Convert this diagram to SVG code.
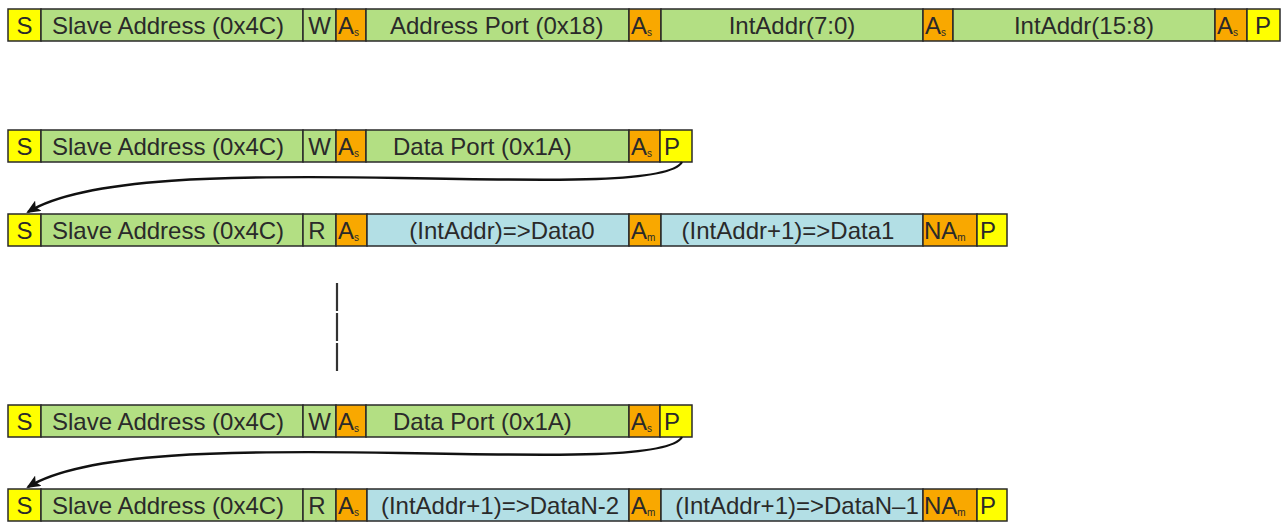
<svg xmlns="http://www.w3.org/2000/svg" width="1285" height="523" viewBox="0 0 1285 523">
<defs>
<style>
rect{stroke:#2a2a2a;stroke-width:1.5}
.y{fill:#ffff00}.g{fill:#b3df83}.o{fill:#f9a800}.b{fill:#b3dfe5}
text{font-family:"Liberation Sans",Arial,sans-serif;font-size:24px;fill:#2a2a2a}
.m{text-anchor:middle}
.sub{font-size:10px}
.conn{fill:none;stroke:#111;stroke-width:2.4}
</style>
<marker id="ah" viewBox="0 0 14 12" refX="12" refY="6" markerWidth="14" markerHeight="12" markerUnits="userSpaceOnUse" orient="auto">
<path d="M0,0 L14,6 L0,12 L3,6 z" fill="#111"/>
</marker>
</defs>
<rect x="0" y="0" width="1285" height="523" fill="#fff" style="stroke:none"/>

<!-- Row 1 -->
<g id="r1">
<g id="r1-s"><rect class="y" x="8" y="9" width="33" height="32"/><text class="m" x="24.5" y="34">S</text></g>
<g id="r1-addr"><rect class="g" x="41" y="9" width="262" height="32"/><text x="52" y="34">Slave Address (0x4C)</text></g>
<g id="r1-w"><rect class="g" x="303" y="9" width="33" height="32"/><text class="m" x="319.5" y="34">W</text></g>
<g id="r1-as1"><rect class="o" x="336" y="9" width="30" height="32"/><text x="338" y="34">A<tspan class="sub" dy="2">s</tspan></text></g>
<g id="r1-port"><rect class="g" x="366" y="9" width="263" height="32"/><text x="390" y="34">Address Port (0x18)</text></g>
<g id="r1-as2"><rect class="o" x="629" y="9" width="32" height="32"/><text x="631" y="34">A<tspan class="sub" dy="2">s</tspan></text></g>
<g id="r1-lo"><rect class="g" x="661" y="9" width="262" height="32"/><text class="m" x="792" y="34">IntAddr(7:0)</text></g>
<g id="r1-as3"><rect class="o" x="923" y="9" width="30" height="32"/><text x="925" y="34">A<tspan class="sub" dy="2">s</tspan></text></g>
<g id="r1-hi"><rect class="g" x="953" y="9" width="262" height="32"/><text class="m" x="1084" y="34">IntAddr(15:8)</text></g>
<g id="r1-as4"><rect class="o" x="1215" y="9" width="32" height="32"/><text x="1217" y="34">A<tspan class="sub" dy="2">s</tspan></text></g>
<g id="r1-p"><rect class="y" x="1247" y="9" width="33" height="32"/><text class="m" x="1263" y="34">P</text></g>
</g>

<!-- Row 2 -->
<g id="r2">
<g id="r2-s"><rect class="y" x="8" y="130" width="33" height="32"/><text class="m" x="24.5" y="155">S</text></g>
<g id="r2-addr"><rect class="g" x="41" y="130" width="262" height="32"/><text x="52" y="155">Slave Address (0x4C)</text></g>
<g id="r2-w"><rect class="g" x="303" y="130" width="33" height="32"/><text class="m" x="319.5" y="155">W</text></g>
<g id="r2-as1"><rect class="o" x="336" y="130" width="30" height="32"/><text x="338" y="155">A<tspan class="sub" dy="2">s</tspan></text></g>
<g id="r2-port"><rect class="g" x="366" y="130" width="263" height="32"/><text x="393" y="155">Data Port (0x1A)</text></g>
<g id="r2-as2"><rect class="o" x="629" y="130" width="31" height="32"/><text x="631" y="155">A<tspan class="sub" dy="2">s</tspan></text></g>
<g id="r2-p"><rect class="y" x="660" y="130" width="32" height="32"/><text x="664" y="155">P</text></g>
</g>

<!-- Row 3 -->
<g id="r3">
<g id="r3-s"><rect class="y" x="8" y="214" width="33" height="32"/><text class="m" x="24.5" y="239">S</text></g>
<g id="r3-addr"><rect class="g" x="41" y="214" width="262" height="32"/><text x="52" y="239">Slave Address (0x4C)</text></g>
<g id="r3-r"><rect class="g" x="303" y="214" width="33" height="32"/><text class="m" x="317" y="239">R</text></g>
<g id="r3-as"><rect class="o" x="336" y="214" width="31" height="32"/><text x="338" y="239">A<tspan class="sub" dy="2">s</tspan></text></g>
<g id="r3-d0"><rect class="b" x="367" y="214" width="262" height="32"/><text class="m" x="502" y="239">(IntAddr)=&gt;Data0</text></g>
<g id="r3-am"><rect class="o" x="629" y="214" width="32" height="32"/><text x="631" y="239">A<tspan class="sub" dy="2">m</tspan></text></g>
<g id="r3-d1"><rect class="b" x="661" y="214" width="262" height="32"/><text class="m" x="788" y="239">(IntAddr+1)=&gt;Data1</text></g>
<g id="r3-nam"><rect class="o" x="923" y="214" width="54" height="32"/><text x="924" y="239">NA<tspan class="sub" dy="2">m</tspan></text></g>
<g id="r3-p"><rect class="y" x="977" y="214" width="30" height="32"/><text x="980" y="239">P</text></g>
</g>

<!-- Row 4 -->
<g id="r4">
<g id="r4-s"><rect class="y" x="8" y="405" width="33" height="32"/><text class="m" x="24.5" y="430">S</text></g>
<g id="r4-addr"><rect class="g" x="41" y="405" width="262" height="32"/><text x="52" y="430">Slave Address (0x4C)</text></g>
<g id="r4-w"><rect class="g" x="303" y="405" width="33" height="32"/><text class="m" x="319.5" y="430">W</text></g>
<g id="r4-as1"><rect class="o" x="336" y="405" width="30" height="32"/><text x="338" y="430">A<tspan class="sub" dy="2">s</tspan></text></g>
<g id="r4-port"><rect class="g" x="366" y="405" width="263" height="32"/><text x="393" y="430">Data Port (0x1A)</text></g>
<g id="r4-as2"><rect class="o" x="629" y="405" width="31" height="32"/><text x="631" y="430">A<tspan class="sub" dy="2">s</tspan></text></g>
<g id="r4-p"><rect class="y" x="660" y="405" width="32" height="32"/><text x="664" y="430">P</text></g>
</g>

<!-- Row 5 -->
<g id="r5">
<g id="r5-s"><rect class="y" x="8" y="489" width="33" height="32"/><text class="m" x="24.5" y="514">S</text></g>
<g id="r5-addr"><rect class="g" x="41" y="489" width="262" height="32"/><text x="52" y="514">Slave Address (0x4C)</text></g>
<g id="r5-r"><rect class="g" x="303" y="489" width="33" height="32"/><text class="m" x="317" y="514">R</text></g>
<g id="r5-as"><rect class="o" x="336" y="489" width="31" height="32"/><text x="338" y="514">A<tspan class="sub" dy="2">s</tspan></text></g>
<g id="r5-d0"><rect class="b" x="367" y="489" width="262" height="32"/><text class="m" x="500" y="514">(IntAddr+1)=&gt;DataN-2</text></g>
<g id="r5-am"><rect class="o" x="629" y="489" width="32" height="32"/><text x="631" y="514">A<tspan class="sub" dy="2">m</tspan></text></g>
<g id="r5-d1"><rect class="b" x="661" y="489" width="262" height="32"/><text class="m" x="797" y="514">(IntAddr+1)=&gt;DataN–1</text></g>
<g id="r5-nam"><rect class="o" x="923" y="489" width="54" height="32"/><text x="924" y="514">NA<tspan class="sub" dy="2">m</tspan></text></g>
<g id="r5-p"><rect class="y" x="977" y="489" width="30" height="32"/><text x="980" y="514">P</text></g>
</g>

<!-- Connectors -->
<g id="connectors">
<path class="conn" marker-end="url(#ah)" d="M 682 162 C 670 183, 560 181, 400 178 C 230 175, 85 177, 28 212"/>
<path class="conn" marker-end="url(#ah)" d="M 682 437 C 670 458, 560 456, 400 453 C 230 450, 85 452, 28 487"/>
<line x1="337" y1="283" x2="337" y2="371" stroke="#333" stroke-width="2.2" stroke-dasharray="28 2"/>
</g>
</svg>
